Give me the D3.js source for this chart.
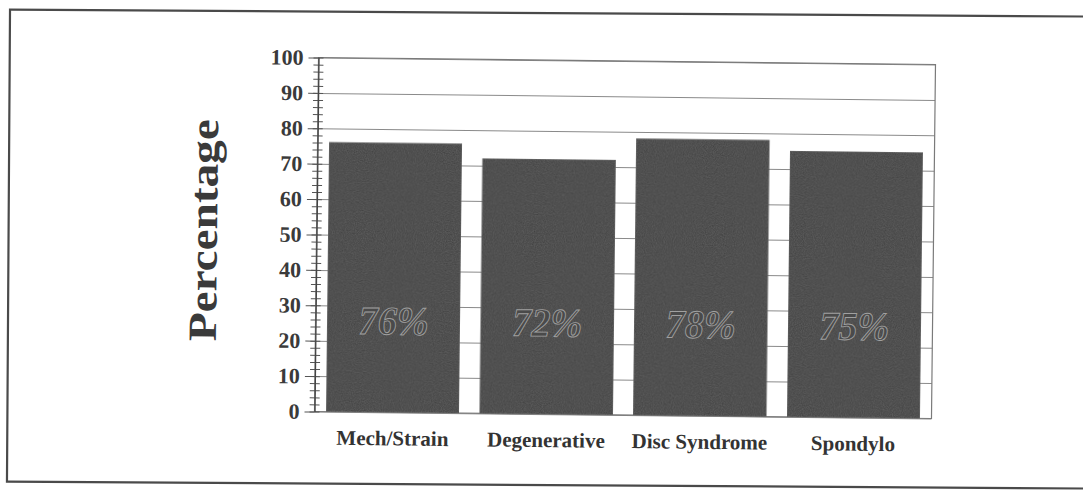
<!DOCTYPE html>
<html>
<head>
<meta charset="utf-8">
<script src="https://cdn.jsdelivr.net/npm/d3@7"></script>
<style>
  body { margin: 0; background: #fff; }
  svg { display: block; }
</style>
</head>
<body>
<div id="chart"></div>
<script>
const categories = ["Mech/Strain", "Degenerative", "Disc Syndrome", "Spondylo"];
const values = [76, 72, 78, 75];
const valueLabels = ["76%", "72%", "78%", "75%"];
const yTicks = [0, 10, 20, 30, 40, 50, 60, 70, 80, 90, 100];
const yMinorTicks = d3.range(0, 101, 2);

const W = 1083, H = 492;
const plot = { left: 316.5, right: 933.5, top: 61, bottom: 415 };
const serif = "'Liberation Serif', 'DejaVu Serif', serif";

const svg = d3.select("#chart")
  .append("svg")
    .attr("width", W)
    .attr("height", H);

// grain for the scanned bars
const defs = svg.append("defs");
const grain = defs.append("filter").attr("id", "grain")
  .attr("x", 0).attr("y", 0).attr("width", 1).attr("height", 1);
grain.append("feTurbulence")
  .attr("type", "fractalNoise")
  .attr("baseFrequency", 0.9)
  .attr("numOctaves", 2)
  .attr("seed", 3)
  .attr("result", "noise");
grain.append("feColorMatrix")
  .attr("in", "noise")
  .attr("type", "matrix")
  .attr("values", "0 0 0 0 0.4  0 0 0 0 0.4  0 0 0 0 0.4  0 0 0 0.2 0")
  .attr("result", "speck");
grain.append("feComposite")
  .attr("in", "speck").attr("in2", "SourceGraphic")
  .attr("operator", "in").attr("result", "speckIn");
grain.append("feMerge").selectAll("feMergeNode")
  .data(["SourceGraphic", "speckIn"])
  .enter().append("feMergeNode").attr("in", d => d);

// outer frame (slightly skewed like the scan)
svg.append("g")
  .attr("transform", "rotate(0.37, 540, 246)")
  .append("rect")
    .attr("x", 8.5)
    .attr("y", 13)
    .attr("width", 1100)
    .attr("height", 472)
    .attr("fill", "none")
    .attr("stroke", "#4a4a4a")
    .attr("stroke-width", 2.2);

const g = svg.append("g")
  .attr("transform", "rotate(0.65, 625, 238)");

const x = d3.scaleBand()
  .domain(categories)
  .range([plot.left, plot.right])
  .paddingInner(0.137)
  .paddingOuter(0.078);

const y = d3.scaleLinear()
  .domain([0, 100])
  .range([plot.bottom, plot.top]);

// gridlines
g.append("g")
  .attr("transform", `translate(${plot.left},0)`)
  .call(d3.axisLeft(y).tickValues(yTicks).tickSize(-(plot.right - plot.left)).tickFormat(""))
  .call(s => s.select(".domain").remove())
  .selectAll("line")
    .attr("stroke", "#8a8a8a")
    .attr("stroke-width", 1);

// plot border
g.append("rect")
  .attr("x", plot.left)
  .attr("y", plot.top)
  .attr("width", plot.right - plot.left)
  .attr("height", plot.bottom - plot.top)
  .attr("fill", "none")
  .attr("stroke", "#7a7a7a")
  .attr("stroke-width", 1.2);

// bars
g.selectAll("rect.bar")
  .data(values)
  .enter()
  .append("rect")
    .attr("class", "bar")
    .attr("x", (d, i) => x(categories[i]))
    .attr("y", d => y(d))
    .attr("width", x.bandwidth())
    .attr("height", d => y(0) - y(d))
    .attr("fill", "#3d3d3d")
    .attr("stroke", "#505050")
    .attr("stroke-width", 1)
    .attr("filter", "url(#grain)");

// hollow value labels inside bars
g.selectAll("text.val")
  .data(valueLabels)
  .enter()
  .append("text")
    .attr("class", "val")
    .attr("x", (d, i) => x(categories[i]) + x.bandwidth() / 2)
    .attr("y", y(22))
    .attr("text-anchor", "middle")
    .attr("font-family", serif)
    .attr("font-weight", "bold")
    .attr("font-style", "italic")
    .attr("font-size", 40)
    .attr("textLength", 70)
    .attr("lengthAdjust", "spacingAndGlyphs")
    .attr("fill", "#4a4a4a")
    .attr("stroke", "#a0a0a0")
    .attr("stroke-width", 0.9)
    .text(d => d);

// y axis with major and minor ticks
const yAxisG = g.append("g")
  .attr("transform", `translate(${plot.left},0)`);

yAxisG.append("g")
  .call(d3.axisLeft(y).tickValues(yMinorTicks).tickSize(5).tickFormat(""))
  .call(s => s.select(".domain").remove())
  .selectAll("line")
    .attr("x1", 5)
    .attr("stroke", "#555");

yAxisG.append("g")
  .call(d3.axisLeft(y).tickValues(yTicks).tickSize(10).tickPadding(5).tickSizeOuter(0))
  .call(s => s.select(".domain").attr("stroke", "#444").attr("stroke-width", 1.3))
  .call(s => s.selectAll("line").attr("stroke", "#555"))
  .selectAll("text")
    .attr("font-family", serif)
    .attr("font-weight", "bold")
    .attr("font-size", 22)
    .attr("fill", "#3a3a3a");

// x category labels
g.selectAll("text.cat")
  .data(categories)
  .enter()
  .append("text")
    .attr("class", "cat")
    .attr("x", d => x(d) + x.bandwidth() / 2)
    .attr("y", plot.bottom + 33)
    .attr("text-anchor", "middle")
    .attr("font-family", serif)
    .attr("font-weight", "bold")
    .attr("font-size", 21)
    .attr("fill", "#333")
    .text(d => d);

// y axis title
g.append("text")
  .attr("transform", `translate(217, 235) rotate(-90)`)
  .attr("text-anchor", "middle")
  .attr("font-family", serif)
  .attr("font-weight", "bold")
  .attr("font-size", 40)
  .attr("textLength", 222)
  .attr("lengthAdjust", "spacingAndGlyphs")
  .attr("fill", "#3a3a3a")
  .text("Percentage");
</script>
</body>
</html>
